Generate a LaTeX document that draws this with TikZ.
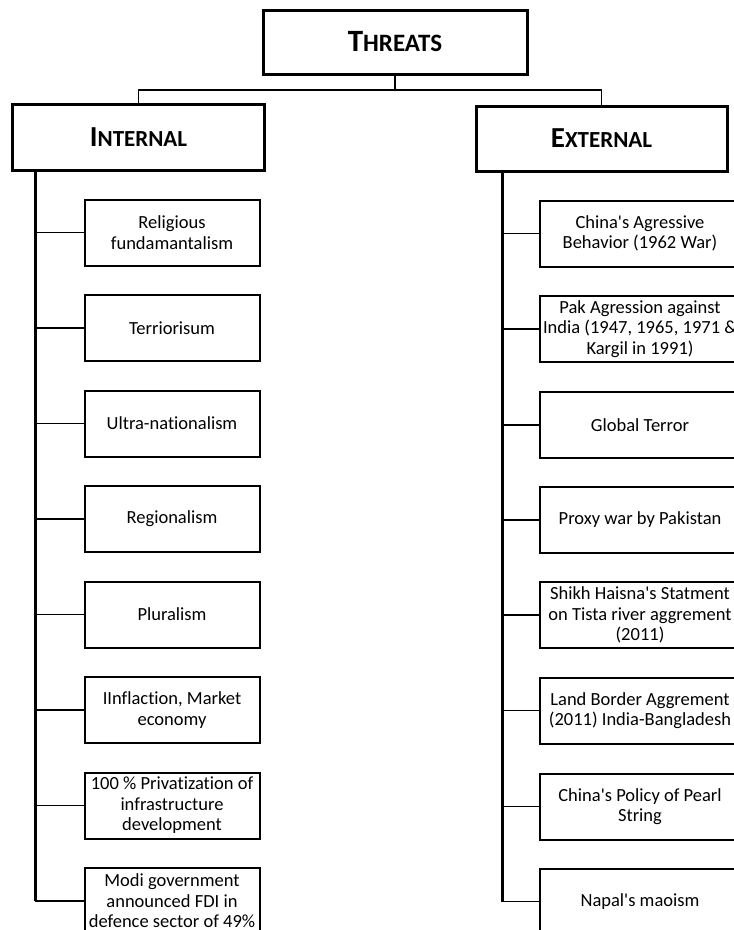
\documentclass[tikz,border=0pt]{standalone}
\usepackage{fontspec}
\setmainfont{Carlito}[Ligatures={TeXOff,CommonOff}]
\usetikzlibrary{positioning,calc}
\newcommand{\headcaps}[3]{{\bfseries\fontsize{#1}{#1}\selectfont #2}{\bfseries\fontsize{\numexpr#1-6\relax}{#1}\selectfont #3}}

\begin{document}
\begin{tikzpicture}[
    x=1pt, y=-1pt,
    head/.style={rectangle, draw, line width=3pt, minimum width=252pt,
                 minimum height=66pt, inner sep=0pt},
    item/.style={rectangle, draw, line width=2pt, minimum width=175pt,
                 minimum height=66pt, inner sep=0pt, align=center,
                 font=\fontsize{18.5}{20.5}\selectfont},
    wideitem/.style={item, minimum width=201pt},
    spine/.style={line width=3pt},
    branch/.style={line width=1.6pt},
    link/.style={line width=1.6pt}
]
\useasboundingbox (0,0) rectangle (734,930);
\clip (0,0) rectangle (734,930);

% Headers
\node[head, minimum width=264pt, minimum height=64pt] (threats) at (395,42) {\headcaps{31}{T}{HREATS}};
\node[head] (internal) at (138.5,137.5) {\headcaps{29}{I}{NTERNAL}};
\node[head, minimum width=251pt, minimum height=65pt] (external) at (601.5,138.5) {\headcaps{29}{E}{XTERNAL}};

% Top connectors
\coordinate (split) at (395,90);
\draw[link] (threats.south) -- (split);
\draw[link] (internal.north) |- (split) -| (external.north);

% Internal threats
\node[item] (i1) at (172,232.5) {Religious\\fundamantalism};
\node[item] (i2) at (172,328) {Terriorisum};
\node[item] (i3) at (172,423.5) {Ultra-nationalism};
\node[item] (i4) at (172,519) {Regionalism};
\node[item] (i5) at (172,614.5) {Pluralism};
\node[item] (i6) at (172,710) {IInflaction, Market\\economy};
\node[item] (i7) at (172,805.5) {100 \% Privatization of\\infrastructure\\development};
\node[item] (i8) at (172,901) {Modi government\\announced FDI in\\defence sector of 49\%};

% External threats
\node[wideitem] (e1) at (640,233.5) {China's Agressive\\Behavior (1962 War)};
\node[wideitem] (e2) at (640,329) {Pak Agression against\\India (1947, 1965, 1971 \&\\Kargil in 1991)};
\node[wideitem] (e3) at (640,425) {Global Terror};
\node[wideitem] (e4) at (640,520) {Proxy war by Pakistan};
\node[wideitem] (e5) at (640,615) {Shikh Haisna's Statment\\on Tista river aggrement\\(2011)};
\node[wideitem] (e6) at (640,710.5) {Land Border Aggrement\\(2011) India-Bangladesh};
\node[wideitem] (e7) at (640,806.5) {China's Policy of Pearl\\String};
\node[wideitem] (e8) at (640,901.5) {Napal's maoism};

% Spines
\coordinate (ispine) at (35,0);
\coordinate (espine) at (502,0);
\draw[spine] (ispine |- internal.south) -- (ispine |- i8.west);
\draw[spine] (espine |- external.south) -- (espine |- e8.west);

% Branches
\foreach \n in {i1,i2,i3,i4,i5,i6,i7,i8}
    \draw[branch] (ispine |- \n.west) -- (\n.west);
\foreach \n in {e1,e2,e3,e4,e5,e6,e7,e8}
    \draw[branch] (espine |- \n.west) -- (\n.west);

\end{tikzpicture}
\end{document}
